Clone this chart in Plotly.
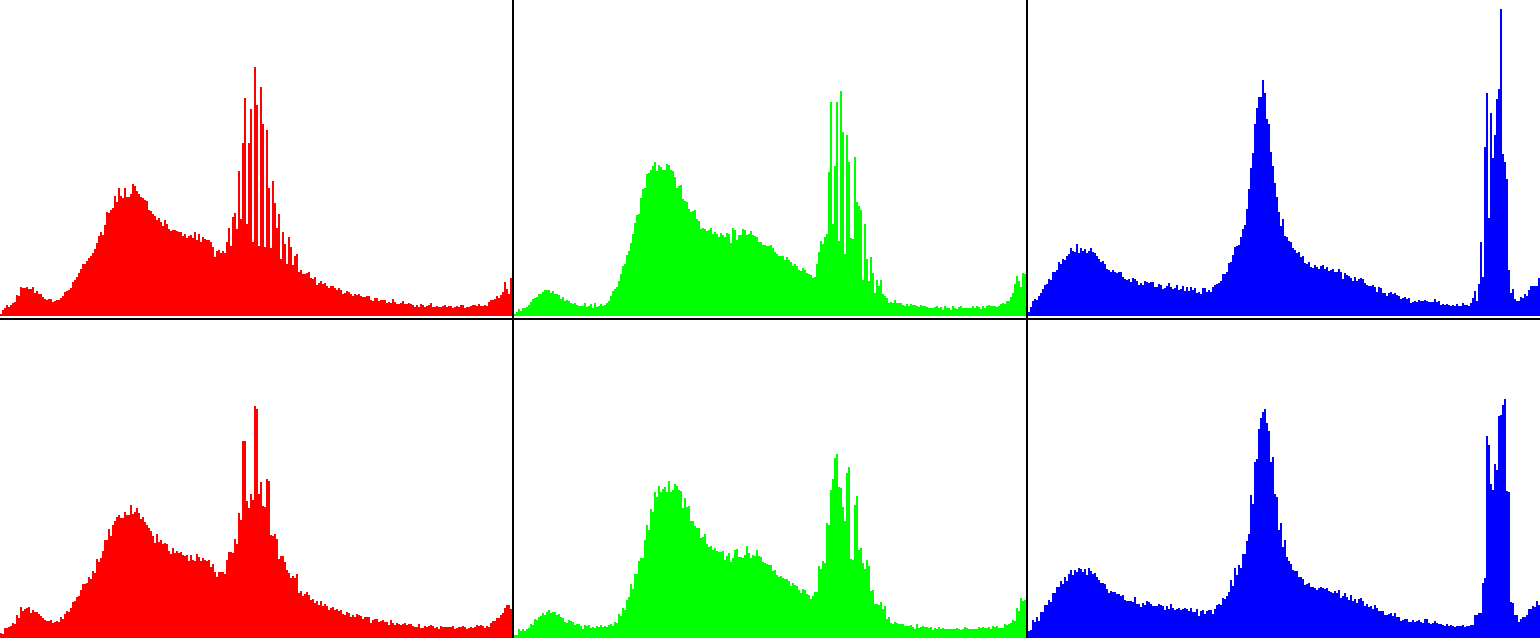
import plotly.graph_objects as go

bins = list(range(256))

red_top = [
2,6,8,11,9,11,13,14,21,20,29,28,28,29,27,27,
29,23,25,22,22,19,17,16,17,17,14,15,16,16,18,20,
24,25,26,28,34,36,39,43,47,52,52,55,58,60,63,67,
73,80,84,81,91,104,103,106,108,120,114,128,120,118,128,119,
119,122,132,130,125,122,119,118,116,115,106,105,102,100,96,98,
94,90,96,92,87,85,86,86,85,84,84,80,82,78,80,81,
78,84,76,82,74,79,77,76,76,74,69,59,65,66,63,65,
63,74,88,70,99,103,87,145,97,173,218,92,173,207,74,249,
211,70,229,192,69,186,128,68,135,113,88,102,57,84,72,52,
79,69,51,60,62,44,46,42,42,43,44,38,37,39,31,33,
35,32,33,30,28,30,30,28,26,28,26,22,23,25,24,22,
20,22,21,22,20,19,19,20,20,16,15,18,18,15,16,16,
16,13,14,13,17,14,12,12,13,15,12,12,13,12,11,9,
11,9,12,11,9,10,11,13,9,9,10,9,9,10,11,9,
10,10,8,9,10,9,11,11,8,9,9,10,11,11,10,12,
10,10,11,10,14,16,16,17,20,18,21,24,34,27,22,38]

green_top = [
2,4,7,5,8,8,9,11,14,17,18,19,22,22,24,26,
26,26,23,25,22,22,21,17,19,15,16,15,13,12,13,11,
10,10,10,13,9,10,12,8,13,9,10,12,10,11,13,15,
20,25,27,29,35,42,50,52,61,65,73,82,93,101,102,118,
127,128,142,143,146,150,154,145,151,149,146,146,152,151,146,145,
139,128,130,131,117,115,114,107,104,105,106,97,95,87,88,87,
85,86,88,82,84,82,79,83,81,79,83,82,73,88,86,76,
81,81,87,86,81,82,85,81,80,79,74,74,71,71,70,70,
71,68,64,62,60,60,60,56,59,56,54,50,52,50,46,45,
48,46,43,42,41,38,39,52,64,75,72,79,82,144,214,92,
150,214,75,225,184,62,181,154,78,77,159,114,110,106,36,92,
57,35,59,43,23,36,30,36,22,20,18,13,14,13,16,13,
13,13,11,10,12,10,12,11,11,10,9,11,10,10,9,8,
8,8,9,10,8,9,6,10,8,8,6,10,8,7,9,10,
8,8,8,8,8,10,8,10,9,7,10,8,10,11,10,10,
10,9,10,12,13,12,15,15,19,23,32,40,35,29,43,42]

blue_top = [
4,9,15,17,16,20,23,27,31,32,37,36,44,44,46,54,
52,57,56,60,62,68,65,64,72,63,68,65,67,63,65,68,
64,63,60,57,54,55,52,47,46,44,46,44,43,44,44,39,
37,36,37,34,38,37,35,31,33,31,35,34,33,34,34,29,
29,32,31,27,28,30,33,29,27,28,31,26,27,30,25,29,
25,29,26,28,23,24,22,28,28,24,26,24,29,31,32,33,
35,42,42,44,53,54,61,69,70,71,79,87,91,107,127,148,
163,192,208,219,219,236,223,197,192,164,150,133,119,104,90,97,
80,79,75,74,68,66,63,64,59,60,53,52,54,49,48,51,
49,47,50,51,47,49,45,46,47,44,44,47,44,37,43,41,
40,38,35,39,35,37,38,37,33,31,30,30,31,29,24,29,
28,23,23,20,23,24,22,23,21,20,17,18,19,17,18,13,
14,15,14,16,15,15,16,15,14,14,14,17,14,15,11,12,
11,12,11,10,11,10,12,10,10,13,11,11,10,13,18,25,
15,32,74,39,169,223,98,203,158,181,217,227,307,162,154,137,
46,23,27,17,15,15,19,18,22,20,26,30,30,30,30,38]

red_bottom = [
5,4,10,10,11,12,15,14,23,20,31,27,29,30,31,25,
28,26,26,24,22,20,18,17,17,18,15,16,17,16,21,19,
24,27,26,30,36,37,41,42,48,54,54,55,61,59,67,65,
79,76,80,87,98,98,109,102,113,117,121,123,120,120,126,123,
123,133,124,126,130,125,119,121,116,113,110,107,102,95,104,96,
98,94,95,94,87,84,90,85,87,85,86,83,82,83,77,83,
78,77,84,81,77,80,78,77,78,71,74,66,61,66,66,66,
64,78,86,86,85,99,94,125,118,197,197,137,130,144,138,232,
229,144,156,132,131,159,157,103,102,104,99,79,82,82,76,68,
65,60,62,60,64,45,47,42,44,46,43,38,39,35,37,33,
37,32,34,32,28,30,31,28,29,27,28,24,23,26,25,21,
23,21,24,23,22,19,21,21,21,15,18,19,19,16,17,18,
16,16,13,18,15,13,15,14,13,14,15,13,14,14,12,11,
11,14,10,10,12,11,12,13,12,10,11,9,12,11,11,11,
11,11,12,9,10,11,11,12,11,9,10,11,10,11,13,12,
13,12,10,12,11,15,17,17,20,20,23,25,30,33,33,29]

green_bottom = [
3,3,9,7,9,7,9,10,14,13,19,18,21,22,25,23,
26,28,25,26,26,23,24,21,20,16,15,18,17,16,13,14,
14,12,9,13,12,13,10,11,10,12,11,13,11,12,11,13,
14,12,16,15,24,22,30,28,38,41,54,49,64,64,77,80,
80,98,113,108,129,126,146,141,152,146,149,151,146,157,146,148,
154,152,148,147,130,140,131,132,117,117,112,110,110,100,101,104,
94,91,92,88,90,87,86,86,87,78,82,85,76,80,88,89,
81,81,80,83,92,85,80,83,82,88,82,81,76,75,74,73,
73,67,68,63,61,62,60,59,59,57,52,55,53,52,48,45,
49,48,44,43,39,42,46,46,72,69,77,75,115,113,148,159,
180,184,151,150,131,117,165,171,79,78,133,142,88,90,75,69,
78,72,47,48,34,34,33,36,29,32,19,21,15,14,16,15,
14,14,14,12,12,12,13,11,9,14,10,11,12,11,11,10,
11,8,10,9,11,9,10,9,9,9,9,9,9,10,9,8,
9,11,10,9,9,9,9,9,11,10,11,10,10,11,9,12,
11,12,10,10,10,14,13,14,15,18,17,30,27,40,37,38]

blue_bottom = [
7,8,18,16,21,17,26,26,33,33,38,36,45,45,51,51,
57,54,61,57,64,68,63,68,66,70,69,66,69,63,70,67,
64,65,61,58,55,55,54,49,45,47,46,46,44,44,42,43,
38,37,37,37,36,41,34,34,31,35,33,37,36,34,32,32,
32,34,33,32,28,32,29,34,30,28,29,30,28,29,30,29,
27,30,26,26,29,22,27,28,24,27,28,28,24,29,33,34,
33,40,39,42,46,58,52,70,63,73,70,84,84,97,104,143,
134,176,179,209,220,226,229,215,207,176,181,144,141,108,115,91,
98,81,77,74,68,67,67,61,61,59,53,54,55,51,51,50,
48,50,51,50,49,50,47,46,45,47,45,48,40,42,45,41,
38,43,37,39,35,39,40,37,32,34,31,32,29,33,30,27,
27,27,23,23,24,25,22,25,21,21,17,18,19,19,16,16,
18,16,17,18,16,15,19,19,15,14,15,17,15,14,14,13,
12,14,12,13,12,11,12,12,12,13,11,12,12,13,13,23,
23,25,25,55,60,202,193,154,148,174,168,222,223,233,239,147,
146,36,35,23,23,16,19,21,21,23,29,29,32,31,37,33]

W, H = 1540, 638
col_dom = [[0, 512 / W], [514 / W, 1026 / W], [1028 / W, 1.0]]
row_dom = [[322 / H, 1.0], [0.0, 318 / H]]
row_rng = [316, 318]
colors = ["#ff0000", "#00ff00", "#0000ff"]
series = [[red_top, green_top, blue_top], [red_bottom, green_bottom, blue_bottom]]

fig = go.Figure()
layout = {}
k = 0
for r in range(2):
    for c in range(3):
        k += 1
        sx = "" if k == 1 else str(k)
        vals = series[r][c]
        fig.add_trace(go.Bar(
            x=bins[:len(vals)], y=vals, xaxis="x" + sx, yaxis="y" + sx,
            marker=dict(color=colors[c], line=dict(width=0)),
            width=1.0, showlegend=False, hoverinfo="skip"))
        layout["xaxis" + sx] = dict(domain=col_dom[c], range=[-0.5, 255.5],
                                    visible=False, fixedrange=True, anchor="y" + sx)
        layout["yaxis" + sx] = dict(domain=row_dom[r], range=[0, row_rng[r]],
                                    visible=False, fixedrange=True, anchor="x" + sx)

fig.update_layout(**layout)
fig.update_layout(
    width=W, height=H, margin=dict(l=0, r=0, t=0, b=0, pad=0),
    paper_bgcolor="white", plot_bgcolor="white",
    bargap=0, bargroupgap=0, showlegend=False,
    shapes=[
        dict(type="line", xref="paper", yref="paper", x0=0, x1=1, y0=0.5, y1=0.5,
             line=dict(color="black", width=2), layer="above"),
        dict(type="line", xref="paper", yref="paper", x0=513 / W, x1=513 / W, y0=0, y1=1,
             line=dict(color="black", width=2), layer="above"),
        dict(type="line", xref="paper", yref="paper", x0=1027 / W, x1=1027 / W, y0=0, y1=1,
             line=dict(color="black", width=2), layer="above"),
    ],
)

fig.write_html(
    "out.html",
    config={"displayModeBar": False},
    post_script="document.body.style.margin='0';document.body.style.padding='0';document.body.style.overflow='hidden';",
)
